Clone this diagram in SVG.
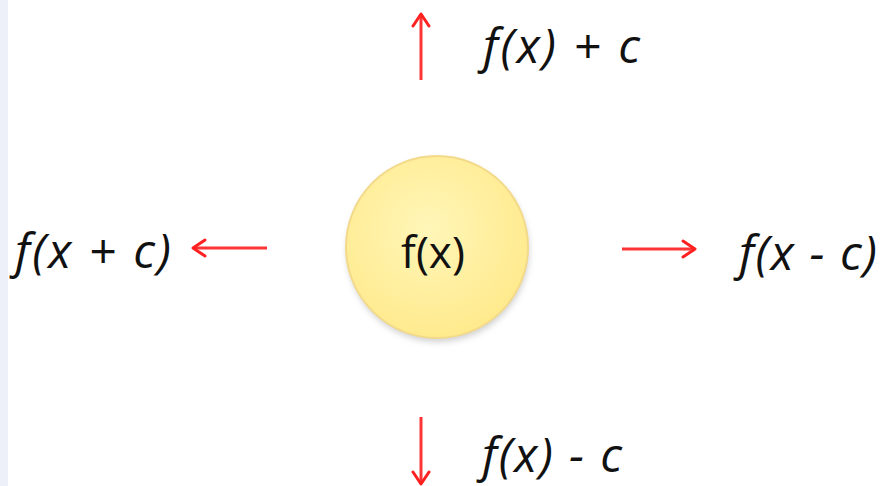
<svg xmlns="http://www.w3.org/2000/svg" width="884" height="486" viewBox="0 0 884 486">
<defs>
<radialGradient id="g" cx="0.45" cy="0.4" r="0.65">
<stop offset="0" stop-color="#fff6b8"/>
<stop offset="1" stop-color="#ffe98a"/>
</radialGradient>
<filter id="sh" x="-20%" y="-20%" width="140%" height="150%">
<feGaussianBlur stdDeviation="3"/>
</filter>
<marker id="ah" viewBox="0 0 20 20" refX="16" refY="10" markerWidth="20" markerHeight="20" markerUnits="userSpaceOnUse" orient="auto">
<path d="M4,2 L16,10 L4,18" fill="none" stroke="#ff2020" stroke-width="3" stroke-linecap="round" stroke-linejoin="round"/>
</marker>
<style>
.lbl{font-family:"Open Sans","Liberation Sans",sans-serif;font-style:italic;font-size:48px;fill:#111}
.arr{stroke:#ff3535;stroke-width:3;fill:none;marker-end:url(#ah)}
</style>
</defs>
<rect x="0" y="0" width="884" height="486" fill="#ffffff"/>
<rect x="0" y="0" width="8" height="486" fill="#edf0f9"/>
<g id="center">
<circle cx="438" cy="251" r="91" fill="#999" opacity="0.45" filter="url(#sh)"/>
<circle cx="437" cy="247" r="91" fill="url(#g)" stroke="#f3d98a" stroke-width="2"/>
<text x="433" y="268" text-anchor="middle" font-family="Open Sans, Liberation Sans, sans-serif" font-size="44" fill="#111">f(x)</text>
</g>
<g id="connectors">
<line class="arr" x1="421" y1="80" x2="421" y2="14"/>
<line class="arr" x1="267" y1="248" x2="193" y2="248"/>
<line class="arr" x1="622" y1="249" x2="695" y2="249"/>
<line class="arr" x1="421" y1="417" x2="421" y2="484"/>
</g>
<g id="top"><text class="lbl" x="483" y="63" textLength="157" lengthAdjust="spacing">f(x) + c</text></g>
<g id="left"><text class="lbl" x="15" y="268" textLength="156" lengthAdjust="spacing">f(x + c)</text></g>
<g id="right"><text class="lbl" x="739" y="270" textLength="138" lengthAdjust="spacing">f(x - c)</text></g>
<g id="bottom"><text class="lbl" x="482" y="472" textLength="140" lengthAdjust="spacing">f(x) - c</text></g>
</svg>
